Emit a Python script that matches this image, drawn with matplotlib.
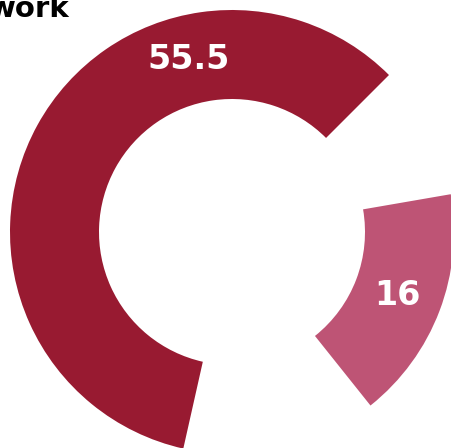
import numpy as np
import matplotlib.pyplot as plt

# slices in drawing order (counter-clockwise from the top-right edge)
categories = ['Main', 'Gap A', 'Second', 'Gap B']
values = [55.5, 13.4, 16, 9.2]
labels = ['55.5', '', '16', '']
colors = ['#981a31', 'none', '#be5475', 'none']
title_text = 'work'

fig = plt.figure(figsize=(4.51, 4.48), dpi=100)
ax = fig.add_axes([0, 0, 1, 1])

center = (232, 216)
r_out = 222
ring = 89

wedges, _ = ax.pie(values, colors=colors, startangle=45, counterclock=True,
                   radius=r_out, center=center,
                   wedgeprops=dict(width=ring, linewidth=0))

# value labels in the middle of the ring
label_angle = {'55.5': 104}
for w, lab in zip(wedges, labels):
    if not lab:
        continue
    ang = label_angle.get(lab, (w.theta1 + w.theta2) / 2)
    r = r_out - ring / 2
    x = center[0] + r * np.cos(np.radians(ang))
    y = center[1] + r * np.sin(np.radians(ang))
    ax.text(x, y, lab, ha='center', va='center', color='white',
            fontsize=24, fontweight='bold', family='DejaVu Sans')

ax.text(70, 431, title_text, ha='right', va='baseline', color='black',
        fontsize=21, fontweight='bold', family='DejaVu Sans')

ax.set_xlim(0, 451)
ax.set_ylim(0, 448)
ax.axis('off')

fig.savefig('out.png', dpi=100)
